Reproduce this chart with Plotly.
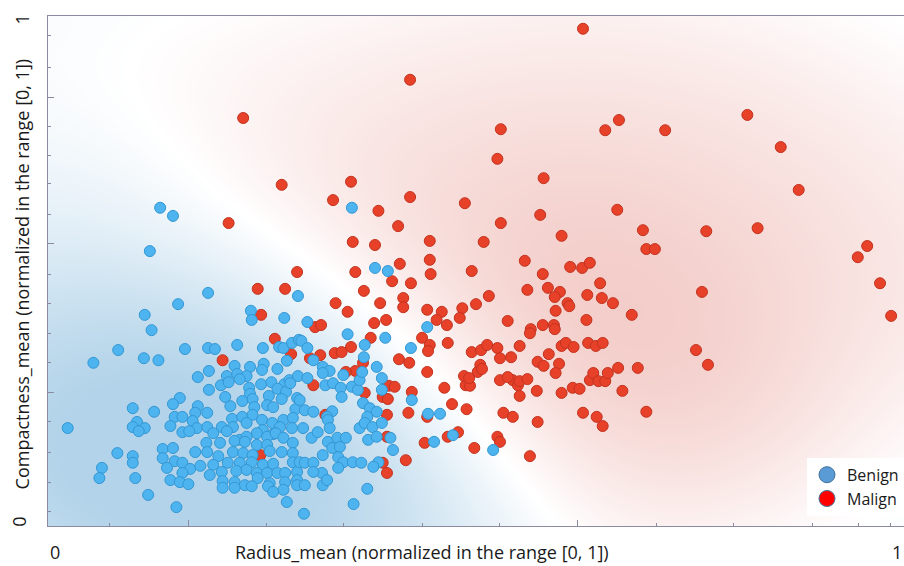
import numpy as np
import plotly.graph_objects as go

# ---- data (normalized values) ----
benign_x = [0.131,0.146,0.119,0.187,0.152,0.237,0.238,0.276,0.113,0.121,0.292,0.082,0.053,0.112,0.129,0.160,0.187,0.195,0.221,0.251,
0.270,0.275,0.285,0.293,0.279,0.175,0.188,0.218,0.236,0.252,0.250,0.268,0.209,0.221,0.232,0.224,0.202,0.211,0.188,0.235,
0.249,0.261,0.276,0.282,0.292,0.236,0.268,0.278,0.154,0.207,0.227,0.239,0.258,0.291,0.273,0.146,0.175,0.099,0.124,0.213,
0.241,0.256,0.263,0.289,0.172,0.186,0.148,0.157,0.169,0.215,0.227,0.239,0.250,0.262,0.275,0.286,0.104,0.099,0.113,0.106,
0.143,0.174,0.186,0.203,0.216,0.232,0.251,0.271,0.285,0.157,0.165,0.193,0.209,0.244,0.263,0.224,0.232,0.256,0.266,0.275,
0.286,0.185,0.201,0.218,0.230,0.244,0.256,0.134,0.146,0.081,0.099,0.099,0.134,0.148,0.172,0.186,0.199,0.216,0.228,0.239,
0.259,0.273,0.286,0.157,0.166,0.178,0.193,0.210,0.224,0.238,0.251,0.263,0.286,0.139,0.157,0.189,0.203,0.220,0.232,0.244,
0.256,0.268,0.277,0.291,0.063,0.060,0.102,0.143,0.154,0.164,0.204,0.218,0.230,0.245,0.259,0.277,0.291,0.204,0.218,0.238,
0.257,0.275,0.263,0.117,0.150,0.279,0.023,0.303,0.296,0.303,0.310,0.321,0.329,0.321,0.303,0.283,0.324,0.333,0.342,0.343,
0.355,0.362,0.345,0.364,0.367,0.369,0.370,0.394,0.384,0.390,0.390,0.368,0.376,0.384,0.294,0.300,0.310,0.332,0.425,0.424,
0.443,0.444,0.458,0.326,0.373,0.298,0.308,0.315,0.327,0.329,0.327,0.338,0.348,0.332,0.341,0.321,0.339,0.345,0.356,0.366,
0.339,0.294,0.300,0.310,0.320,0.310,0.291,0.300,0.321,0.326,0.364,0.370,0.374,0.379,0.384,0.390,0.400,0.403,0.386,0.380,
0.373,0.357,0.299,0.451,0.473,0.520,0.355,0.382,0.397,0.350]
benign_y = [0.624,0.608,0.539,0.457,0.435,0.422,0.404,0.408,0.414,0.384,0.451,0.345,0.320,0.329,0.325,0.347,0.349,0.347,0.355,0.349,
0.351,0.349,0.359,0.365,0.324,0.292,0.304,0.314,0.312,0.318,0.306,0.308,0.294,0.298,0.294,0.288,0.276,0.282,0.267,0.271,
0.278,0.282,0.278,0.286,0.294,0.259,0.269,0.263,0.251,0.253,0.245,0.249,0.255,0.251,0.249,0.239,0.235,0.231,0.224,0.235,
0.233,0.237,0.233,0.229,0.222,0.222,0.214,0.214,0.206,0.210,0.214,0.218,0.208,0.202,0.208,0.212,0.204,0.194,0.192,0.186,
0.196,0.192,0.194,0.194,0.194,0.202,0.188,0.194,0.192,0.184,0.186,0.182,0.186,0.182,0.180,0.169,0.175,0.175,0.182,0.173,
0.163,0.163,0.163,0.167,0.165,0.159,0.159,0.151,0.153,0.143,0.137,0.124,0.133,0.127,0.145,0.145,0.137,0.145,0.143,0.139,
0.147,0.145,0.143,0.124,0.112,0.118,0.120,0.124,0.124,0.125,0.120,0.122,0.125,0.114,0.104,0.100,0.106,0.108,0.110,0.104,
0.104,0.104,0.104,0.106,0.114,0.094,0.094,0.090,0.086,0.082,0.088,0.086,0.080,0.094,0.084,0.086,0.090,0.075,0.075,0.078,
0.078,0.071,0.067,0.061,0.037,0.047,0.192,0.400,0.363,0.349,0.325,0.312,0.304,0.300,0.290,0.280,0.276,0.280,0.271,0.253,
0.273,0.267,0.296,0.286,0.302,0.331,0.355,0.369,0.312,0.290,0.267,0.241,0.231,0.224,0.247,0.227,0.224,0.225,0.247,0.349,
0.390,0.220,0.220,0.214,0.214,0.192,0.173,0.184,0.208,0.192,0.165,0.173,0.173,0.153,0.155,0.139,0.135,0.125,0.125,0.124,
0.114,0.125,0.124,0.124,0.104,0.106,0.080,0.080,0.080,0.090,0.192,0.202,0.169,0.194,0.175,0.202,0.173,0.149,0.125,0.116,
0.073,0.043,0.024,0.165,0.178,0.149,0.624,0.506,0.500,0.376]

malign_x = [0.625,0.423,0.228,0.529,0.651,0.667,0.721,0.817,0.856,0.525,0.579,0.273,0.354,0.877,0.333,0.386,0.423,0.487,0.575,0.665,
0.529,0.211,0.409,0.446,0.509,0.600,0.695,0.699,0.709,0.769,0.829,0.356,0.382,0.411,0.446,0.447,0.495,0.557,0.578,0.610,
0.624,0.633,0.424,0.645,0.560,0.584,0.598,0.592,0.515,0.500,0.415,0.415,0.443,0.460,0.484,0.481,0.454,0.466,0.537,0.593,
0.607,0.609,0.630,0.647,0.660,0.682,0.629,0.578,0.591,0.564,0.291,0.245,0.277,0.249,0.265,0.284,0.204,0.764,0.757,0.771,
0.699,0.957,0.946,0.972,0.985,0.312,0.319,0.381,0.377,0.318,0.306,0.335,0.343,0.354,0.368,0.359,0.348,0.310,0.398,0.405,
0.370,0.391,0.397,0.421,0.443,0.437,0.446,0.444,0.467,0.410,0.422,0.443,0.463,0.425,0.472,0.324,0.396,0.396,0.440,0.467,
0.479,0.418,0.391,0.396,0.489,0.488,0.493,0.532,0.543,0.551,0.571,0.572,0.525,0.528,0.498,0.563,0.600,0.613,0.621,0.625,
0.641,0.528,0.543,0.549,0.633,0.563,0.592,0.495,0.506,0.513,0.525,0.528,0.541,0.551,0.600,0.605,0.614,0.631,0.640,0.648,
0.585,0.572,0.579,0.597,0.593,0.505,0.502,0.507,0.486,0.492,0.537,0.551,0.560,0.637,0.643,0.651,0.654,0.666,0.689,0.671,
0.648,0.248,0.359,0.369,0.388,0.402,0.336,0.350,0.395]
malign_y = [0.975,0.875,0.800,0.778,0.776,0.796,0.776,0.806,0.743,0.720,0.682,0.669,0.675,0.659,0.639,0.618,0.645,0.633,0.610,0.620,
0.594,0.594,0.588,0.559,0.557,0.569,0.580,0.543,0.543,0.578,0.584,0.557,0.551,0.514,0.522,0.494,0.500,0.520,0.494,0.508,
0.506,0.516,0.476,0.476,0.463,0.467,0.459,0.449,0.451,0.435,0.447,0.429,0.424,0.420,0.427,0.408,0.404,0.394,0.402,0.422,
0.437,0.431,0.453,0.447,0.437,0.414,0.404,0.394,0.394,0.386,0.498,0.465,0.465,0.414,0.367,0.337,0.325,0.459,0.345,0.316,
0.224,0.549,0.527,0.476,0.412,0.390,0.394,0.398,0.369,0.335,0.329,0.339,0.341,0.351,0.320,0.304,0.302,0.276,0.275,0.273,
0.261,0.253,0.249,0.222,0.214,0.369,0.355,0.343,0.359,0.327,0.320,0.302,0.271,0.263,0.239,0.218,0.218,0.175,0.163,0.175,
0.184,0.129,0.124,0.104,0.229,0.276,0.275,0.222,0.214,0.255,0.265,0.204,0.175,0.165,0.153,0.137,0.261,0.271,0.269,0.222,
0.214,0.286,0.286,0.276,0.286,0.378,0.386,0.341,0.345,0.355,0.349,0.329,0.331,0.353,0.353,0.359,0.351,0.359,0.353,0.359,
0.337,0.322,0.314,0.318,0.300,0.316,0.302,0.308,0.294,0.290,0.292,0.284,0.288,0.300,0.284,0.284,0.300,0.310,0.310,0.265,
0.196,0.139,0.498,0.461,0.437,0.480,0.437,0.420,0.404]

series_names = ["Benign", "Malign"]
x_axis_title = "Radius_mean (normalized in the range [0, 1])"
y_axis_title = "Compactness_mean (normalized in the range [0, 1])"
tick_labels = ["0", "1"]

# ---- background class field derived from the points (kernel estimate) ----
bx, by = np.array(benign_x), np.array(benign_y)
mx, my = np.array(malign_x), np.array(malign_y)
gx = np.linspace(0, 1, 121); gy = np.linspace(0, 1, 121)
GX, GY = np.meshgrid(gx, gy)
h = 0.14

def kern_sum(px, py):
    d2 = (GX[..., None] - px) ** 2 + (GY[..., None] - py) ** 2
    return np.exp(-d2 / (2 * h * h)).sum(-1)

Sr = kern_sum(mx, my)
Sb = kern_sum(bx, by)
S = Sr + Sb
purity = (Sr - Sb) / (S + 1e-9)
conf = np.log1p(S) / np.log1p(S.max())
field = np.clip(1.25 * purity * conf - 0.09, -1, 1)

fig = go.Figure()
fig.add_trace(go.Heatmap(x=gx, y=gy, z=field, zmin=-1, zmax=1, zsmooth="best",
                         colorscale=[[0, "rgb(178,211,233)"], [0.5, "rgb(255,255,255)"], [1, "rgb(240,192,187)"]],
                         showscale=False, hoverinfo="skip"))
fig.add_trace(go.Scatter(x=malign_x, y=malign_y, mode="markers", showlegend=False,
                         marker=dict(size=11, color="#e8412a", line=dict(color="#c2331f", width=1))))
fig.add_trace(go.Scatter(x=benign_x, y=benign_y, mode="markers", showlegend=False,
                         marker=dict(size=11, color="#4db4ef", line=dict(color="#3497d3", width=1))))
# legend entries
fig.add_trace(go.Scatter(x=[None], y=[None], mode="markers", name=series_names[0],
                         marker=dict(size=16, color="#5b9bd5", line=dict(color="#41719c", width=1))))
fig.add_trace(go.Scatter(x=[None], y=[None], mode="markers", name=series_names[1],
                         marker=dict(size=16, color="#ff0000", line=dict(color="#41719c", width=1))))

font = "Open Sans"
axcol = "#8a8aa0"
fig.update_layout(
    width=904, height=566, margin=dict(l=48, r=0, t=16, b=40),
    paper_bgcolor="white", plot_bgcolor="white",
    font=dict(family=font, size=16, color="#1a1a1a"),
    legend=dict(x=1, y=0.02, xanchor="right", yanchor="bottom", bgcolor="white",
                font=dict(size=16), itemsizing="trace", traceorder="normal"),
    xaxis=dict(range=[0, 1], showgrid=False, zeroline=False, showline=True, linecolor=axcol, mirror=True,
               ticks="inside", ticklen=6, tickcolor=axcol, tickvals=[0.164, 0.619], showticklabels=False,
               minor=dict(ticks="inside", ticklen=3, tickcolor=axcol,
                          tickvals=[0.072, 0.255, 0.345, 0.438, 0.528, 0.711, 0.801, 0.893, 0.947, 0.984])),
    yaxis=dict(range=[0, 1], showgrid=False, zeroline=False, showline=True, linecolor=axcol, mirror=True,
               ticks="inside", ticklen=6, tickcolor=axcol, tickvals=[0.261, 0.553, 0.841], showticklabels=False,
               minor=dict(ticks="inside", ticklen=3, tickcolor=axcol,
                          tickvals=[0.029, 0.086, 0.145, 0.204, 0.320, 0.378, 0.437, 0.494, 0.610, 0.671,
                                    0.727, 0.784, 0.900, 0.961])),
)
ann = [
    dict(text=tick_labels[0], x=0.008, y=-0.051),
    dict(text=tick_labels[1], x=0.992, y=-0.051),
    dict(text=x_axis_title, x=0.437, y=-0.051),
    dict(text=tick_labels[1], x=-0.030, y=0.994, textangle=-90),
    dict(text=tick_labels[0], x=-0.034, y=0.008, textangle=-90),
    dict(text=y_axis_title, x=-0.030, y=0.494, textangle=-90),
]
for a in ann:
    fig.add_annotation(xref="paper", yref="paper", showarrow=False, xanchor="center", yanchor="middle",
                       font=dict(family=font, size=18, color="#1a1a1a"), **a)

fig.write_html("out.html", config={"displayModeBar": False},
               post_script="document.body.style.margin='0';document.body.style.padding='0';")
